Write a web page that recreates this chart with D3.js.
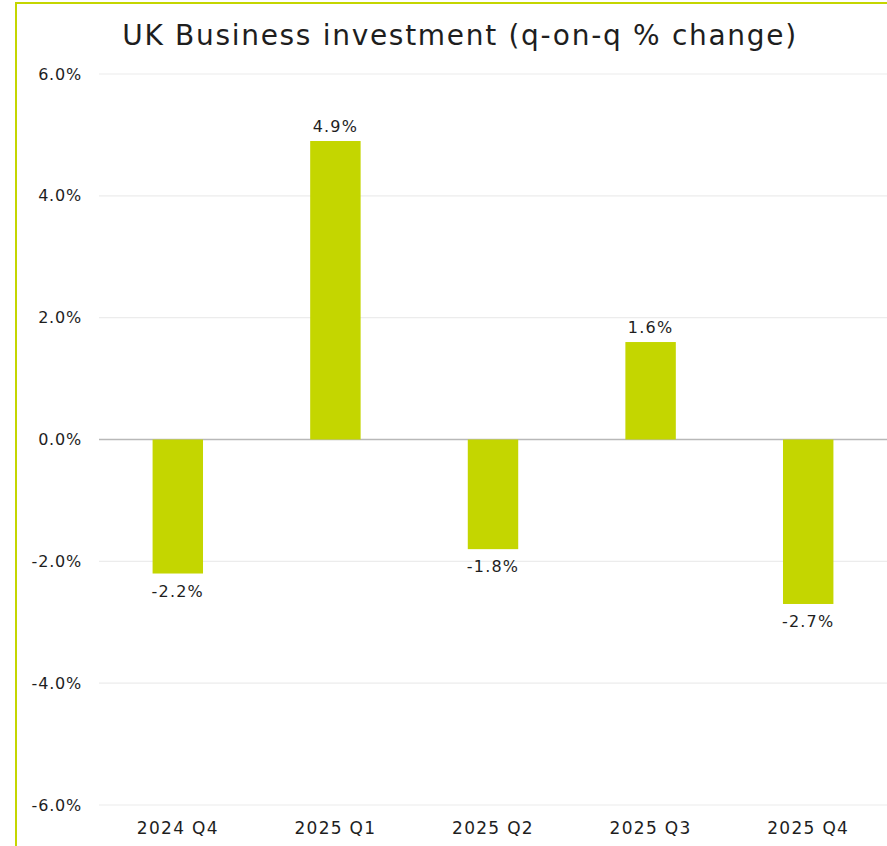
<!DOCTYPE html>
<html>
<head>
<meta charset="utf-8">
<script src="https://cdn.jsdelivr.net/npm/d3@7"></script>
<style>
  html, body { margin: 0; padding: 0; background: #fff; }
  svg { display: block; }
  text { font-family: "DejaVu Sans", sans-serif; fill: #1e1e1e; }
</style>
</head>
<body>
<script>
// Quarterly UK business investment, q-on-q % change
const quarters = ["2024 Q4", "2025 Q1", "2025 Q2", "2025 Q3", "2025 Q4"];
const changes = [-2.2, 4.9, -1.8, 1.6, -2.7];
const yTicks = [-6, -4, -2, 0, 2, 4, 6];
const titleText = "UK Business investment (q-on-q % change)";

const W = 887, H = 846;
const accent = "#c4d600";
// percent with a plain hyphen for negatives
const pct = v => (v < 0 ? "-" : "") + Math.abs(v).toFixed(1) + "%";

const svg = d3.select("body").append("svg")
  .attr("width", W).attr("height", H);

// frame lines along the top and left edges
svg.append("line").attr("x1", 16).attr("x2", W).attr("y1", 3).attr("y2", 3)
  .attr("stroke", accent).attr("stroke-width", 2);
svg.append("line").attr("x1", 16).attr("x2", 16).attr("y1", 2).attr("y2", H)
  .attr("stroke", accent).attr("stroke-width", 2);

const x = d3.scaleBand()
  .domain(quarters)
  .range([99, 887])
  .paddingInner(0.68)
  .paddingOuter(0.34);

const y = d3.scaleLinear().domain([-6, 6]).range([805, 74]);

// horizontal gridlines
svg.append("g").selectAll("line").data(yTicks).join("line")
  .attr("x1", 99).attr("x2", W)
  .attr("y1", d => y(d)).attr("y2", d => y(d))
  .attr("stroke", d => d === 0 ? "#b8b8b8" : "#ececec")
  .attr("stroke-width", d => d === 0 ? 1.5 : 1.2);

// y-axis labels
const yAxis = d3.axisLeft(y).tickValues(yTicks)
  .tickFormat(pct).tickSize(0).tickPadding(0);
svg.append("g").attr("transform", "translate(82,0)").call(yAxis)
  .call(g => g.select(".domain").remove())
  .call(g => g.selectAll("text").attr("font-size", 16)
    .attr("letter-spacing", 0.8)
    .style("font-family", "DejaVu Sans, sans-serif").attr("fill", "#1e1e1e"));

// bars
svg.append("g").selectAll("rect").data(quarters).join("rect")
  .attr("x", d => x(d))
  .attr("width", x.bandwidth())
  .attr("y", (d, i) => Math.min(y(changes[i]), y(0)))
  .attr("height", (d, i) => Math.abs(y(changes[i]) - y(0)))
  .attr("fill", accent);

// value labels
svg.append("g").selectAll("text").data(quarters).join("text")
  .attr("x", d => x(d) + x.bandwidth() / 2)
  .attr("y", (d, i) => changes[i] >= 0 ? y(changes[i]) - 9 : y(changes[i]) + 23)
  .attr("text-anchor", "middle")
  .attr("font-size", 16)
  .attr("letter-spacing", 1.2)
  .text((d, i) => pct(changes[i]));

// category axis
const xAxis = d3.axisBottom(x).tickSize(0).tickPadding(0);
svg.append("g").attr("transform", "translate(0,822)").call(xAxis)
  .call(g => g.select(".domain").remove())
  .call(g => g.selectAll("text").attr("font-size", 17)
    .attr("letter-spacing", 1.3)
    .style("font-family", "DejaVu Sans, sans-serif").attr("fill", "#1e1e1e"));

// title
svg.append("text")
  .attr("x", 460).attr("y", 45)
  .attr("text-anchor", "middle")
  .attr("font-size", 28)
  .attr("letter-spacing", 1.7)
  .attr("fill", "#1a1a1a")
  .text(titleText);
</script>
</body>
</html>
